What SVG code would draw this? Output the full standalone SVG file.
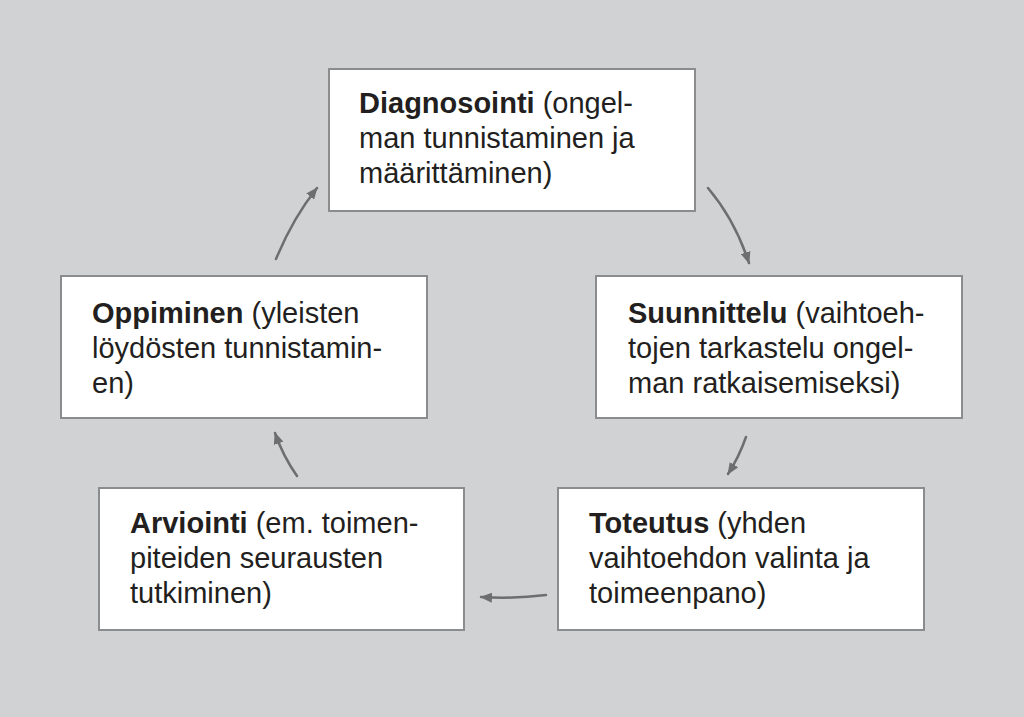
<svg xmlns="http://www.w3.org/2000/svg" width="1024" height="717" viewBox="0 0 1024 717">
<defs>
<style>
.box{fill:#ffffff;stroke:#8b8c8e;stroke-width:2}
.t{font-family:"Liberation Sans",Arial,sans-serif;font-size:29px;fill:#231f20}
.b{font-weight:bold}
.c{fill:none;stroke:#6d6e70;stroke-width:2.5;stroke-linecap:round}
</style>
<marker id="ah" viewBox="0 0 12 10" refX="11" refY="5" markerWidth="12" markerHeight="10" markerUnits="userSpaceOnUse" orient="auto">
<path d="M0,0 L12,5 L0,10 Z" fill="#6d6e70"/>
</marker>
</defs>
<rect width="1024" height="717" fill="#d1d2d4"/>
<g id="diagnosointi">
<rect class="box" x="329" y="69" width="366" height="142"/>
<text class="t" x="359" y="113"><tspan class="b">Diagnosointi</tspan> (ongel-</text>
<text class="t" x="359" y="148">man tunnistaminen ja</text>
<text class="t" x="359" y="183">määrittäminen)</text>
</g>
<g id="suunnittelu">
<rect class="box" x="596" y="276" width="366" height="142"/>
<text class="t" x="628" y="323"><tspan class="b">Suunnittelu</tspan> (vaihtoeh-</text>
<text class="t" x="628" y="358">tojen tarkastelu ongel-</text>
<text class="t" x="628" y="393">man ratkaisemiseksi)</text>
</g>
<g id="toteutus">
<rect class="box" x="558" y="488" width="366" height="142"/>
<text class="t" x="589" y="533"><tspan class="b">Toteutus</tspan> (yhden</text>
<text class="t" x="589" y="568">vaihtoehdon valinta ja</text>
<text class="t" x="589" y="603">toimeenpano)</text>
</g>
<g id="arviointi">
<rect class="box" x="99" y="488" width="365" height="142"/>
<text class="t" x="130" y="533"><tspan class="b">Arviointi</tspan> (em. toimen-</text>
<text class="t" x="130" y="568">piteiden seurausten</text>
<text class="t" x="130" y="603">tutkiminen)</text>
</g>
<g id="oppiminen">
<rect class="box" x="61" y="276" width="366" height="142"/>
<text class="t" x="92" y="323"><tspan class="b">Oppiminen</tspan> (yleisten</text>
<text class="t" x="92" y="358">löydösten tunnistamin-</text>
<text class="t" x="92" y="393">en)</text>
</g>
<g id="connectors">
<path class="c" d="M708,188 Q735,220 749,263" marker-end="url(#ah)"/>
<path class="c" d="M746,437 Q739,457 728,474" marker-end="url(#ah)"/>
<path class="c" d="M546,595 Q515,599 481,597" marker-end="url(#ah)"/>
<path class="c" d="M297,476 Q283,456 275,433" marker-end="url(#ah)"/>
<path class="c" d="M276,259 Q293,218 317,188" marker-end="url(#ah)"/>
</g>
</svg>
